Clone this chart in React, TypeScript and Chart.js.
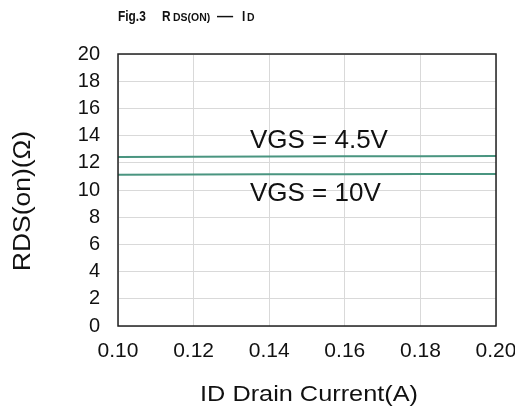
import React, { useEffect, useRef } from "react";
import { Chart, registerables } from "chart.js";

Chart.register(...registerables);

const currentA = [0.1, 0.12, 0.14, 0.16, 0.18, 0.2];
const rdsVgs45 = [12.43, 12.45, 12.47, 12.48, 12.49, 12.5];
const rdsVgs10 = [11.13, 11.14, 11.15, 11.16, 11.17, 11.18];
const xTickStep = 0.02;
const yTickStep = 2;
const labels = [
  { text: "VGS = 4.5V", x: 0.1349, y: 13.09 },
  { text: "VGS = 10V", x: 0.1349, y: 9.19 },
];

const LINE = "#4a9580";
const FONT = "'Liberation Sans', Arial, Helvetica, sans-serif";

const overlay = {
  id: "overlay",
  afterDraw(chart: any) {
    const { ctx, chartArea: a, scales } = chart;
    ctx.save();
    // frame
    ctx.strokeStyle = "#222";
    ctx.lineWidth = 1.5;
    ctx.strokeRect(a.left, a.top, a.right - a.left, a.bottom - a.top);
    // annotations
    ctx.fillStyle = "#111";
    ctx.font = `26px ${FONT}`;
    ctx.textBaseline = "alphabetic";
    ctx.textAlign = "left";
    for (const l of labels) {
      ctx.fillText(l.text, scales.x.getPixelForValue(l.x), scales.y.getPixelForValue(l.y));
    }
    // y title
    ctx.save();
    ctx.translate(24, 201);
    ctx.rotate(-Math.PI / 2);
    ctx.scale(1.15, 1);
    ctx.textAlign = "center";
    ctx.textBaseline = "middle";
    ctx.font = `23px ${FONT}`;
    ctx.fillText("RDS(on)(Ω)", 0, 0);
    ctx.restore();
    // x title
    ctx.save();
    ctx.translate((a.left + a.right) / 2 + 2, 395);
    ctx.scale(1.15, 1);
    ctx.textAlign = "center";
    ctx.textBaseline = "middle";
    ctx.font = `22px ${FONT}`;
    ctx.fillText("ID Drain Current(A)", 0, 0);
    ctx.restore();
    // header
    const parts: [string, number, number, number][] = [
      ["Fig.3", 118, 14, 0.85],
      ["R", 162, 14, 0.85],
      ["DS(ON)", 173, 11, 0.95],
      ["—", 217, 14, 1.15],
      ["I", 242, 14, 0.85],
      ["D", 247, 11, 0.95],
    ];
    ctx.textBaseline = "alphabetic";
    ctx.textAlign = "left";
    for (const [t, x, s, k] of parts) {
      ctx.save();
      ctx.translate(x, 21);
      ctx.scale(k, 1);
      ctx.font = `bold ${s}px ${FONT}`;
      ctx.fillText(t, 0, 0);
      ctx.restore();
    }
    ctx.restore();
  },
};

export default function App() {
  const ref = useRef<HTMLCanvasElement>(null);
  useEffect(() => {
    document.body.style.margin = "0";
    const chart = new Chart(ref.current!, {
      type: "line",
      data: {
        labels: currentA,
        datasets: [
          {
            label: "VGS = 4.5V",
            data: currentA.map((x, i) => ({ x, y: rdsVgs45[i] })),
            borderColor: LINE,
            borderWidth: 2,
            pointRadius: 0,
            fill: false,
          },
          {
            label: "VGS = 10V",
            data: currentA.map((x, i) => ({ x, y: rdsVgs10[i] })),
            borderColor: LINE,
            borderWidth: 2,
            pointRadius: 0,
            fill: false,
          },
        ],
      },
      options: {
        responsive: false,
        animation: false,
        layout: { padding: { left: 10, top: 54, right: 19, bottom: 0 } },
        plugins: { legend: { display: false }, tooltip: { enabled: false }, title: { display: false } },
        scales: {
          x: {
            type: "linear",
            min: 0.1,
            max: 0.2,
            ticks: {
              stepSize: xTickStep,
              callback: (v: any) => Number(v).toFixed(2),
              font: { family: FONT, size: 21 },
              color: "#111",
              padding: 13,
              maxRotation: 0,
            },
            grid: { color: "#d9d9d9", lineWidth: 1, drawTicks: false },
            border: { display: false },
            afterFit: (s: any) => {
              s.height = 91;
              s.paddingLeft = 0;
              s.paddingRight = 0;
            },
          },
          y: {
            min: 0,
            max: 20,
            ticks: {
              stepSize: yTickStep,
              font: { family: FONT, size: 20 },
              color: "#111",
              padding: 18,
            },
            grid: { color: "#d9d9d9", lineWidth: 1, drawTicks: false },
            border: { display: false },
            afterFit: (s: any) => {
              s.width = 108;
              s.paddingTop = 0;
              s.paddingBottom = 0;
            },
          },
        },
      },
      plugins: [overlay],
    });
    return () => chart.destroy();
  }, []);
  return (
    <div style={{ width: 515, height: 417 }}>
      <canvas ref={ref} width={515} height={417} style={{ display: "block" }} />
    </div>
  );
}
